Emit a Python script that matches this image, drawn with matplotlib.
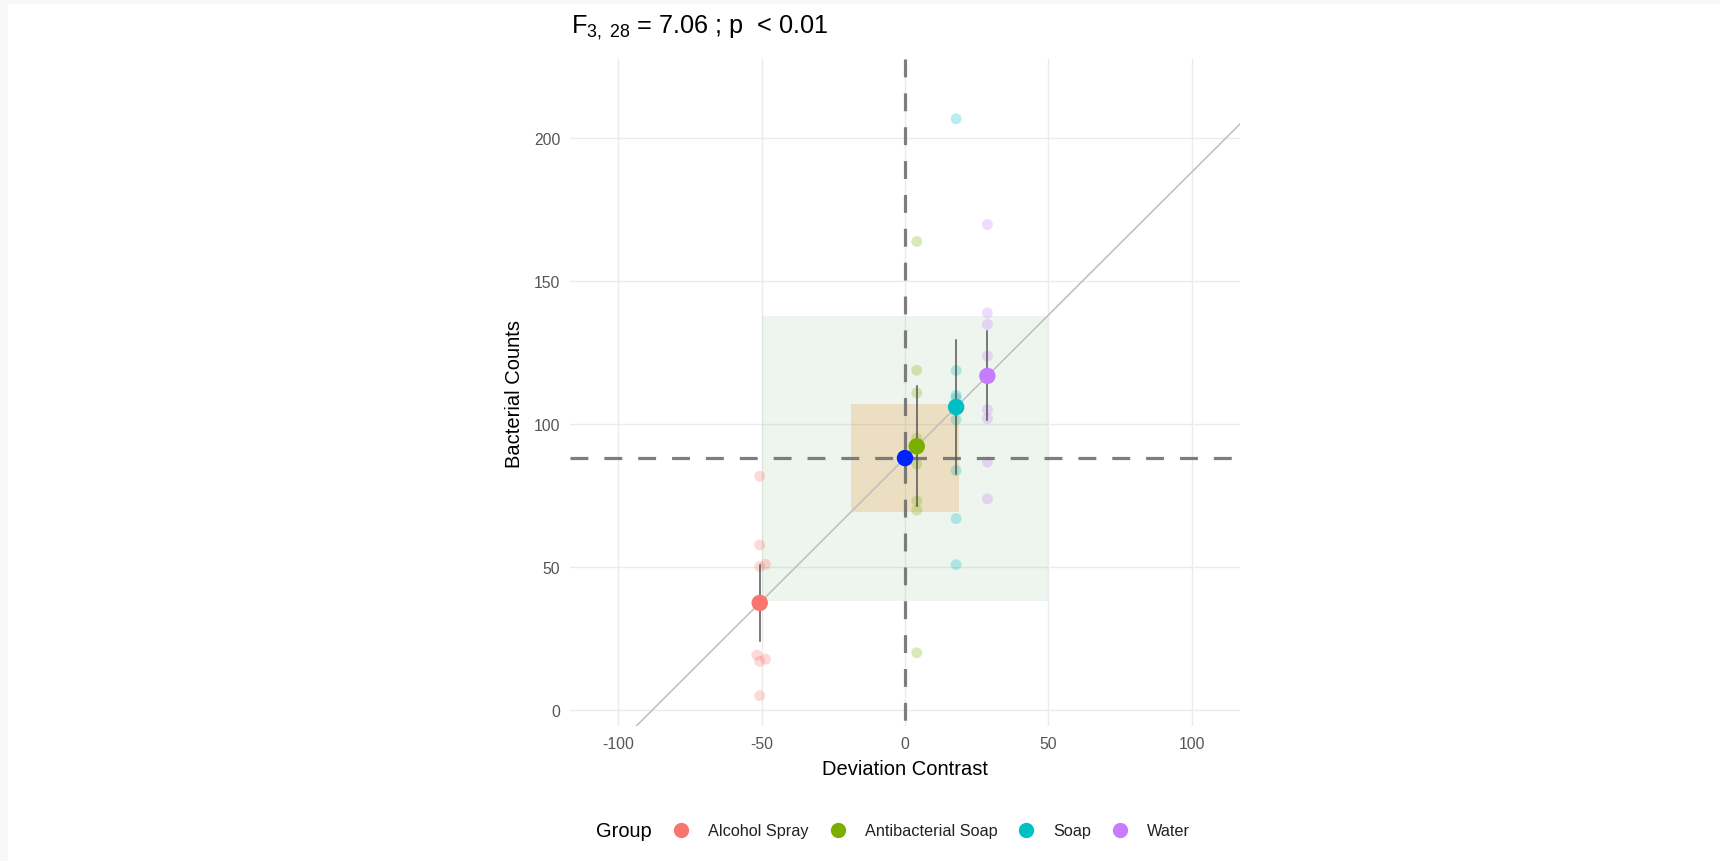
import numpy as np
import matplotlib
matplotlib.use("Agg")
import matplotlib.pyplot as plt
from matplotlib.lines import Line2D
from matplotlib.patches import Rectangle

plt.rcParams['font.family'] = ['Liberation Sans', 'DejaVu Sans']
plt.rcParams['mathtext.fontset'] = 'custom'
plt.rcParams['mathtext.rm'] = 'Liberation Sans'
plt.rcParams['mathtext.it'] = 'Liberation Sans:italic'
plt.rcParams['axes.unicode_minus'] = False

# ---------------- data ----------------
groups = ["Alcohol Spray", "Antibacterial Soap", "Soap", "Water"]
colors = ["#F8766D", "#7CAE00", "#00BFC4", "#C77CFF"]
alcohol_spray = [81.7, 57.7, 50.1, 50.9, 19.2, 17.0, 17.8, 5.0]
antibacterial_soap = [163.8, 118.8, 110.8, 95.0, 86.0, 73.1, 69.9, 20.0]
soap = [206.7, 118.7, 110.0, 109.0, 101.5, 83.7, 66.9, 50.8]
water = [169.7, 138.8, 134.8, 123.7, 105.0, 101.9, 86.7, 73.8]
jitter_alcohol = [0, 0, 0, 2, -1, 0, 2, 0]
jitter_other = [0, 0, 0, 0, 0, 0, 0, 0]
x_ticks = [-100, -50, 0, 50, 100]
y_ticks = [0, 50, 100, 150, 200]
title_text = r"F$_{\mathrm{3,\ 28}}$ = 7.06 ; p  < 0.01"

values = [alcohol_spray, antibacterial_soap, soap, water]
jitters = [jitter_alcohol, jitter_other, jitter_other, jitter_other]

all_vals = np.concatenate([np.asarray(v, float) for v in values])
grand_mean = all_vals.mean()
means = np.array([np.mean(v) for v in values])
sds = np.array([np.std(v, ddof=1) for v in values])
devs = means - grand_mean
n = len(alcohol_spray)
k = len(values)
ms_between = n * np.sum(devs ** 2) / (k - 1)
ms_within = np.mean([np.var(v, ddof=1) for v in values])
side_b = np.sqrt(ms_between)
side_w = np.sqrt(ms_within)

# ---------------- figure ----------------
W, H = 1720, 862
fig = plt.figure(figsize=(W / 100, H / 100), dpi=100)
fig.patches.append(Rectangle((0, 1 - 5 / H), 1, 5 / H, transform=fig.transFigure,
                             facecolor="#F8F8F8", edgecolor="none", zorder=0))
fig.patches.append(Rectangle((0, 0), 8 / W, 1, transform=fig.transFigure,
                             facecolor="#F8F8F8", edgecolor="none", zorder=0))

left, right, top, bottom = 570, 1240, 60, 727
ax = fig.add_axes([left / W, 1 - bottom / H, (right - left) / W, (bottom - top) / H])
ax.set_xlim(-116.8, 116.8)
ax.set_ylim(-5.6, 227.6)
for s in ax.spines.values():
    s.set_visible(False)
ax.set_xticks(x_ticks)
ax.set_yticks(y_ticks)
ax.tick_params(length=0, labelsize=11.3, labelcolor="#555555", pad=7)
ax.grid(True, color="#EBEBEB", lw=1.0, zorder=0)
ax.set_axisbelow(True)

# squares
ax.add_patch(Rectangle((-side_b / 2, grand_mean - side_b / 2), side_b, side_b,
                       facecolor="#5A9A5A", alpha=0.1, edgecolor="none", zorder=1))
ax.add_patch(Rectangle((-side_w / 2, grand_mean - side_w / 2), side_w, side_w,
                       facecolor="#E6A03C", alpha=0.25, edgecolor="none", zorder=1.1))

# identity line through grand mean
xs = np.array([-130, 130])
ax.plot(xs, xs + grand_mean, color="#BEBEBE", lw=1.1, zorder=2)

# raw points
for d, v, j, c in zip(devs, values, jitters, colors):
    ax.scatter(d + np.asarray(j), v, s=62, color=c, alpha=0.27, edgecolors="none", zorder=3)

# dashed reference lines
dash = (0, (5.6, 5.0))
ax.axhline(grand_mean, color="#707070", lw=2.3, ls=dash, alpha=0.9, zorder=4)
ax.plot([0, 0], [227.6, -5.6], color="#707070", lw=2.3, ls=dash, alpha=0.9, zorder=4)

# error bars (mean +/- sd/2)
for d, m, sd in zip(devs, means, sds):
    ax.plot([d, d], [m - sd / 2, m + sd / 2], color="#555555", lw=1.1, zorder=5)

# group means
for d, m, c in zip(devs, means, colors):
    ax.scatter([d], [m], s=140, color=c, edgecolors="none", zorder=6)
ax.scatter([0], [grand_mean], s=140, color="#0022FF", edgecolors="none", zorder=7)

# labels
fig.text(571 / W, 1 - 33.3 / H, title_text, fontsize=18.2, ha="left", va="baseline")
fig.text(((left + right) / 2) / W, 1 - 770 / H, "Deviation Contrast", fontsize=14.5,
         ha="center", va="center")
fig.text(514 / W, 1 - 394 / H, "Bacterial Counts", fontsize=14.5, rotation=90,
         ha="center", va="center")

# legend
handles = [Line2D([], [], marker="o", ls="none", color=c, markersize=10) for c in colors]
leg = fig.legend(handles, groups, loc="center left", bbox_to_anchor=(673 / W, 1 - 832 / H),
                 bbox_transform=fig.transFigure, ncol=4, frameon=False, fontsize=11.7,
                 handlelength=1.0, handletextpad=1.16, columnspacing=1.29,
                 borderpad=0, borderaxespad=0)
for t in leg.get_texts():
    t.set_color("#222222")
fig.text(652 / W, 1 - 832 / H, "Group", fontsize=14.4, ha="right", va="center")

fig.savefig("out.png", dpi=100)
